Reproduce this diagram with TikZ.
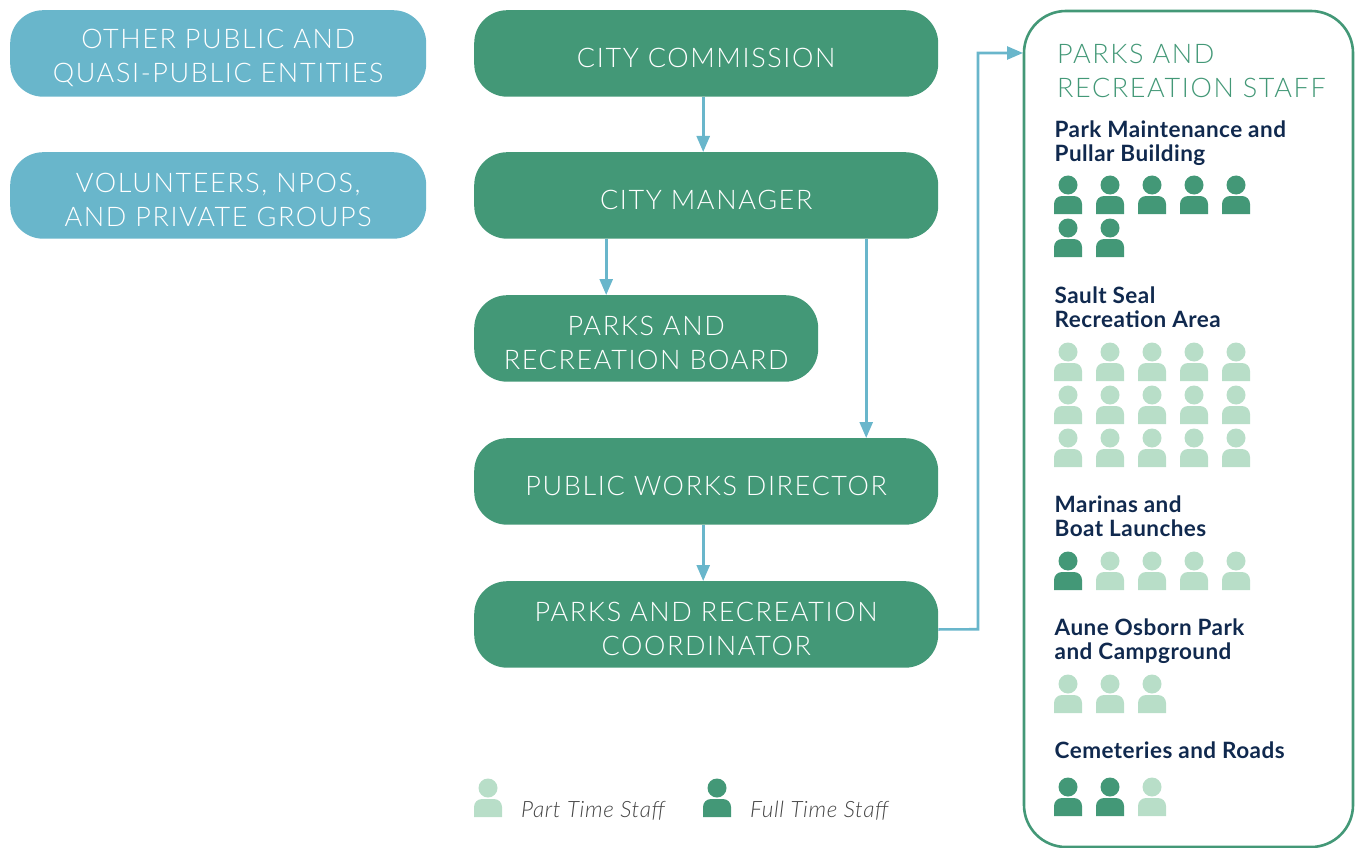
\documentclass[tikz,border=0pt]{standalone}
\usepackage{fontspec}
\setmainfont{Lato}
\newfontfamily\titlefont[LetterSpace=6]{Lato Light}
\newfontfamily\headfont[LetterSpace=2]{Lato}
\newfontfamily\legendfont[LetterSpace=3,ItalicFont={Lato Light Italic}]{Lato Light}
\usetikzlibrary{arrows.meta}

\definecolor{parkgreen}{HTML}{439877}
\definecolor{paleteal}{HTML}{B8DEC8}
\definecolor{skyblue}{HTML}{69B6CB}
\definecolor{navy}{HTML}{10294E}
\definecolor{legendgrey}{HTML}{444444}

\newcommand{\liftline}{\rule{0pt}{27.5pt}}

\tikzset{
	office/.style={fill=#1, rounded corners=33pt, inner sep=0pt, text=white, align=center,
		font=\titlefont\fontsize{27}{34}\selectfont, anchor=north west, minimum height=86.5pt},
	flow/.style={skyblue, line width=2.6pt, -{Triangle[length=16pt,width=13pt]}},
	grouphead/.style={anchor=base west, inner sep=0pt, align=left, text=navy,
		font=\headfont\bfseries\fontsize{22.5}{24}\selectfont},
	legendtext/.style={anchor=base west, inner sep=0pt, text=legendgrey,
		font=\legendfont\itshape\fontsize{22.5}{24}\selectfont},
	fulltime/.style={fill=parkgreen},
	parttime/.style={fill=paleteal},
	person/.pic={
		\path[pic actions] (0,0) circle (9.5);
		\path[pic actions, rounded corners=8pt] (-14,29) [sharp corners] -- (-14,29) [rounded corners=8pt] -- (-14,11) -- (14,11) [sharp corners] -- (14,29) -- cycle;
	}
}

\begin{document}
\begin{tikzpicture}[x=1pt,y=-1pt]
	\useasboundingbox (0,0) rectangle (1355,848);

	% Kaesten links
	\node[office=skyblue, minimum width=416pt] (entities) at (10,10) {\liftline OTHER PUBLIC AND\\QUASI-PUBLIC ENTITIES};
	\node[office=skyblue, minimum width=416pt] (volunteers) at (10,152) {\liftline VOLUNTEERS, NPOS,\\AND PRIVATE GROUPS};

	% Kaesten Mitte
	\node[office=parkgreen, minimum width=464pt] (commission) at (474,10) {\liftline CITY COMMISSION};
	\node[office=parkgreen, minimum width=464pt] (manager) at (474,152) {\liftline CITY MANAGER};
	\node[office=parkgreen, minimum width=344pt] (board) at (474,295) {\liftline PARKS AND\\RECREATION BOARD};
	\node[office=parkgreen, minimum width=464pt] (director) at (474,438) {\liftline PUBLIC WORKS DIRECTOR};
	\node[office=parkgreen, minimum width=464pt] (coordinator) at (474,581) {\liftline PARKS AND RECREATION\\COORDINATOR};

	% Rahmen rechts
	\node[draw=parkgreen, line width=2.6pt, rounded corners=42pt, minimum width=329pt, minimum height=836pt,
		anchor=north west, inner sep=0pt, outer sep=0pt] (staff) at (1024,11) {};
	\node[anchor=base west, inner sep=0pt, align=left, text=parkgreen,
		font=\titlefont\fontsize{27}{34}\selectfont] (stafftitle) at (1057,98) {PARKS AND\\RECREATION STAFF};

	% Linien
	\coordinate (elbow) at (978,629.25);
	\coordinate (stafftip) at (1023,53);
	\draw[flow] ([xshift=-3pt]commission.south) -- ([xshift=-3pt]manager.north);
	\draw[flow] ([xshift=-100pt]manager.south) -- ([xshift=-40pt]board.north);
	\draw[flow] ([xshift=160pt]manager.south) -- ([xshift=160pt]director.north);
	\draw[flow] ([xshift=-3pt]director.south) -- ([xshift=-3pt]coordinator.north);
	\draw[flow] ([yshift=-5pt]coordinator.east) -- (elbow) |- (stafftip);

	% Gruppen
	\node[grouphead] (maintenance) at (1054.5,161) {Park Maintenance and\\Pullar Building};
	\node[grouphead] (sault) at (1054.5,327) {Sault Seal\\Recreation Area};
	\node[grouphead] (marinas) at (1054.5,536) {Marinas and\\Boat Launches};
	\node[grouphead] (aune) at (1054.5,659) {Aune Osborn Park\\and Campground};
	\node[grouphead] (cemeteries) at (1054.5,758) {Cemeteries and Roads};

	% Personen
	\foreach \px in {1068,1110,1152,1194,1236}
		\pic[fulltime] at (\px,185) {person};
	\foreach \px in {1068,1110}
		\pic[fulltime] at (\px,228) {person};
	\foreach \py in {352,395,438}
		\foreach \px in {1068,1110,1152,1194,1236}
			\pic[parttime] at (\px,\py) {person};
	\pic[fulltime] at (1068,561) {person};
	\foreach \px in {1110,1152,1194,1236}
		\pic[parttime] at (\px,561) {person};
	\foreach \px in {1068,1110,1152}
		\pic[parttime] at (\px,684) {person};
	\foreach \px in {1068,1110}
		\pic[fulltime] at (\px,787) {person};
	\pic[parttime] at (1152,787) {person};

	% Legende
	\pic[parttime] at (488,788) {person};
	\pic[fulltime] at (717,788) {person};
	\node[legendtext] (parttext) at (521,817) {Part Time Staff};
	\node[legendtext] (fulltext) at (750,817) {Full Time Staff};
\end{tikzpicture}
\end{document}
